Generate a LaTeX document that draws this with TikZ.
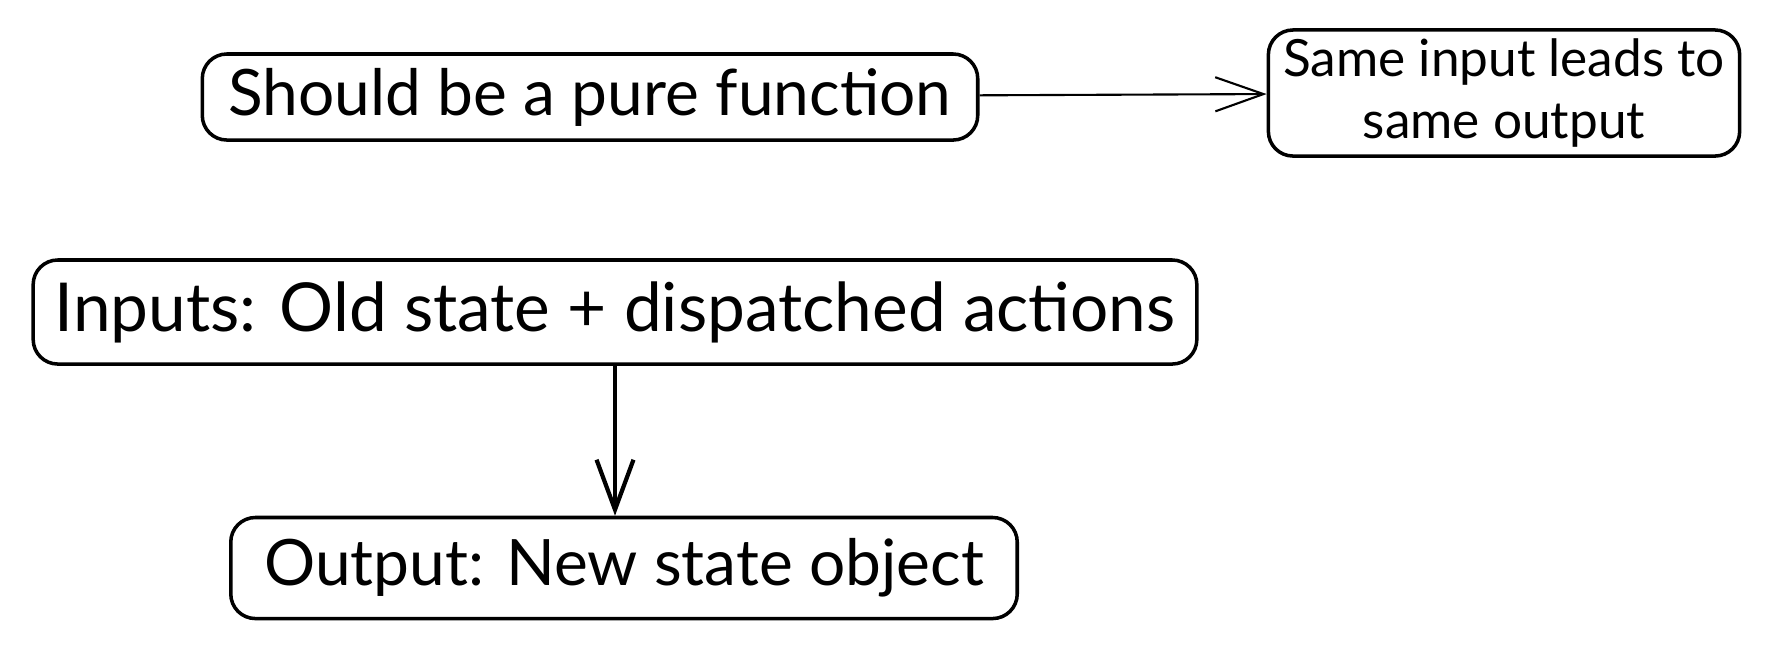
\documentclass[tikz,border=0pt]{standalone}
\usepackage{fontspec}
\setmainfont{Lato}
\usetikzlibrary{arrows.meta}

\begin{document}
\begin{tikzpicture}[x=0.01cm, y=-0.01cm] % 1 unidad = 1 pixel
    % Marco del dibujo
    \useasboundingbox (0,0) rectangle (1780,650);
    \tikzset{caja/.style={draw, line width=1pt, rounded corners=7pt, align=center, inner sep=0pt,
        font=\fontsize{18.2}{22}\selectfont}}
    % Caja de arriba y su nota
    \node[caja, minimum width=7.75cm, minimum height=0.86cm] (pura) at (590,97) {Should be a pure function};
    \node[caja, minimum width=4.71cm, minimum height=1.26cm, font=\fontsize{14.6}{17.5}\selectfont] (misma) at (1504,93) {Same input leads to\\same output};
    \draw[-{Straight Barb[length=13.7pt,width=9.7pt]}, semithick] (pura) -- (misma);
    % Entradas y salida
    \node[caja, minimum width=11.63cm, minimum height=1.04cm, font=\fontsize{19.2}{22}\selectfont] (entradas) at (615,312) {Inputs: Old state + dispatched actions};
    \node[caja, minimum width=7.86cm, minimum height=1.01cm] (salida) at (624,568) {Output: New state object};
    \draw[-{Straight Barb[length=14.2pt,width=10.5pt]}, line width=1.2pt] (entradas.south) -- (entradas.south |- salida.north);
\end{tikzpicture}
\end{document}
